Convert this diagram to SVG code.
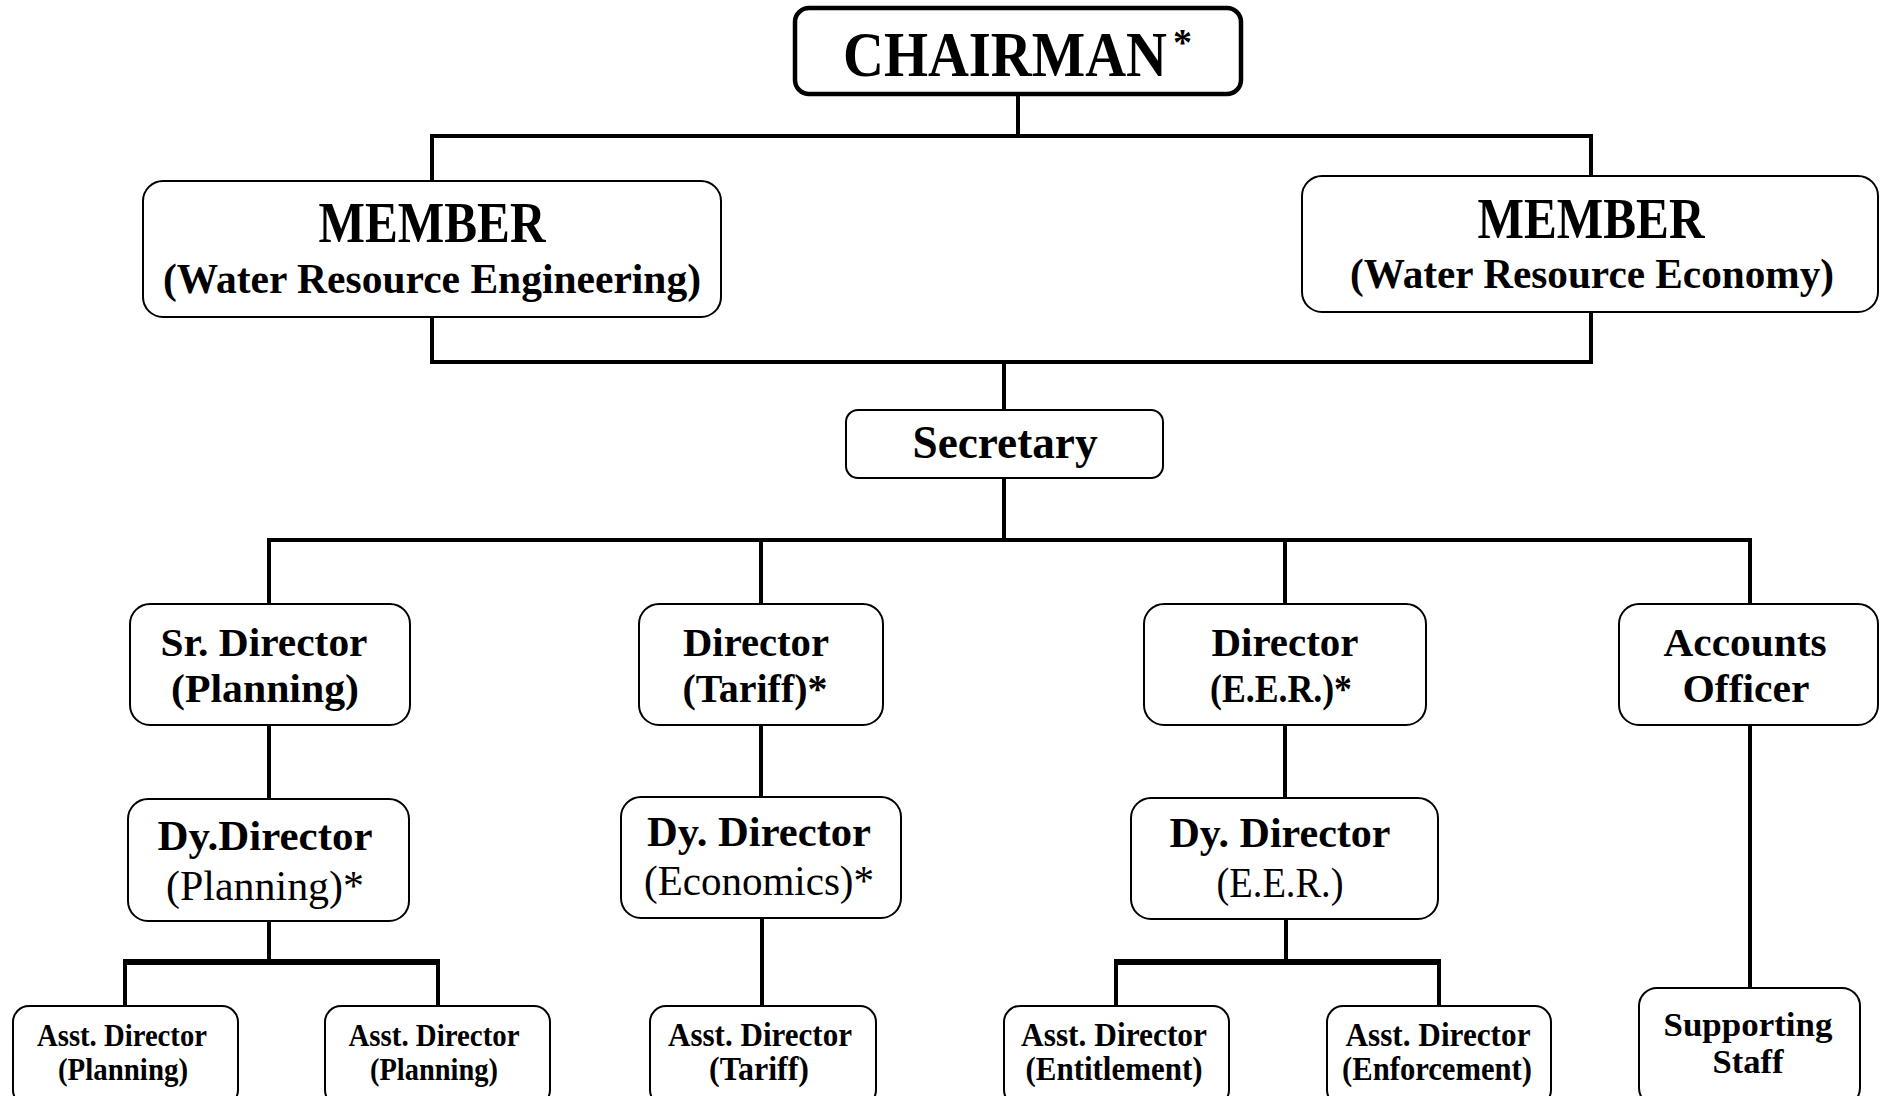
<svg xmlns="http://www.w3.org/2000/svg" width="1881" height="1096" viewBox="0 0 1881 1096">
<style>
.bx{fill:#fff;stroke:#000;stroke-width:2}
.bxc{fill:#fff;stroke:#000;stroke-width:4.5}
.ln{fill:none;stroke:#000;stroke-width:4;stroke-linecap:square}
.br{fill:none;stroke:#000;stroke-width:6}
text{font-family:"Liberation Serif","Times New Roman",serif;font-weight:bold;fill:#000;text-anchor:middle}
.r{font-weight:normal}
.t1{font-size:64px}
.t2{font-size:56px}
.t3{font-size:42px}
.t4{font-size:46px}
.t5{font-size:40px}
.t6{font-size:42px}
.t7{font-size:31px}
.t8{font-size:33px}
</style>
<rect width="1881" height="1096" fill="#fff"/>
<g id="connectors">
<path class="ln" d="M1018 95V136M432 180V136H1591V175"/>
<path class="ln" d="M432 318V362H1591V313M1004 362V410"/>
<path class="ln" d="M1004 479V540M269 604V540H1750V604M761 540V604M1285 540V604"/>
<path class="ln" d="M269 726V799M761 726V797M1285 726V798M1750 726V988"/>
<path class="ln" d="M269 922V962M762 918V1006M1286 920V962"/>
<path class="ln" d="M125 1006V962M438 1006V962M1116 1006V962M1439 1006V962"/>
<path class="br" d="M123 962H440M1114 962H1441"/>
</g>
<g id="chairman">
<rect class="bxc" x="795" y="8" width="446" height="86" rx="14"/>
<text class="t1" transform="translate(1005 76) scale(0.885 1)" x="0" y="0">CHAIRMAN</text>
<text x="1173" y="55" style="font-size:38px;text-anchor:start">*</text>
</g>
<g id="member-engineering">
<rect class="bx" x="143" y="181" width="578" height="136" rx="20"/>
<text class="t2" x="432" y="242" textLength="227" lengthAdjust="spacingAndGlyphs">MEMBER</text>
<text class="t3" x="432" y="293" textLength="538" lengthAdjust="spacingAndGlyphs">(Water Resource Engineering)</text>
</g>
<g id="member-economy">
<rect class="bx" x="1302" y="176" width="576" height="136" rx="20"/>
<text class="t2" x="1591" y="238" textLength="227" lengthAdjust="spacingAndGlyphs">MEMBER</text>
<text class="t3" x="1592" y="288" textLength="484" lengthAdjust="spacingAndGlyphs">(Water Resource Economy)</text>
</g>
<g id="secretary">
<rect class="bx" x="846" y="410" width="317" height="68" rx="12"/>
<text class="t4" x="1005" y="458" textLength="185" lengthAdjust="spacingAndGlyphs">Secretary</text>
</g>
<g id="sr-director-planning">
<rect class="bx" x="130" y="604" width="280" height="121" rx="20"/>
<text class="t5" x="264" y="656" textLength="207" lengthAdjust="spacingAndGlyphs">Sr. Director</text>
<text class="t5" x="265" y="702" textLength="188" lengthAdjust="spacingAndGlyphs">(Planning)</text>
</g>
<g id="director-tariff">
<rect class="bx" x="639" y="604" width="244" height="121" rx="20"/>
<text class="t5" x="756" y="656" textLength="146" lengthAdjust="spacingAndGlyphs">Director</text>
<text class="t5" x="755" y="702" textLength="145" lengthAdjust="spacingAndGlyphs">(Tariff)*</text>
</g>
<g id="director-eer">
<rect class="bx" x="1144" y="604" width="282" height="121" rx="20"/>
<text class="t5" x="1285" y="656" textLength="147" lengthAdjust="spacingAndGlyphs">Director</text>
<text class="t5" x="1281" y="702" textLength="142" lengthAdjust="spacingAndGlyphs">(E.E.R.)*</text>
</g>
<g id="accounts-officer">
<rect class="bx" x="1619" y="604" width="259" height="121" rx="20"/>
<text class="t5" x="1745" y="656" textLength="163" lengthAdjust="spacingAndGlyphs">Accounts</text>
<text class="t5" x="1746" y="702" textLength="127" lengthAdjust="spacingAndGlyphs">Officer</text>
</g>
<g id="dy-director-planning">
<rect class="bx" x="128" y="799" width="281" height="122" rx="20"/>
<text class="t6" x="265" y="850" textLength="215" lengthAdjust="spacingAndGlyphs">Dy.Director</text>
<text class="t6 r" x="265" y="900" textLength="198" lengthAdjust="spacingAndGlyphs">(Planning)*</text>
</g>
<g id="dy-director-economics">
<rect class="bx" x="621" y="797" width="280" height="121" rx="20"/>
<text class="t6" x="759" y="846" textLength="224" lengthAdjust="spacingAndGlyphs">Dy. Director</text>
<text class="t6 r" x="759" y="895" textLength="230" lengthAdjust="spacingAndGlyphs">(Economics)*</text>
</g>
<g id="dy-director-eer">
<rect class="bx" x="1131" y="798" width="307" height="121" rx="20"/>
<text class="t6" x="1280" y="847" textLength="221" lengthAdjust="spacingAndGlyphs">Dy. Director</text>
<text class="t6 r" x="1280" y="897" textLength="127" lengthAdjust="spacingAndGlyphs">(E.E.R.)</text>
</g>
<g id="asst-director-planning-1">
<rect class="bx" x="13" y="1006" width="225" height="100" rx="16"/>
<text class="t7" x="122" y="1046" textLength="170" lengthAdjust="spacingAndGlyphs">Asst. Director</text>
<text class="t7" x="123" y="1080" textLength="130" lengthAdjust="spacingAndGlyphs">(Planning)</text>
</g>
<g id="asst-director-planning-2">
<rect class="bx" x="325" y="1006" width="225" height="100" rx="16"/>
<text class="t7" x="434" y="1046" textLength="171" lengthAdjust="spacingAndGlyphs">Asst. Director</text>
<text class="t7" x="434" y="1080" textLength="128" lengthAdjust="spacingAndGlyphs">(Planning)</text>
</g>
<g id="asst-director-tariff">
<rect class="bx" x="650" y="1006" width="226" height="100" rx="16"/>
<text class="t8" x="760" y="1046" textLength="184" lengthAdjust="spacingAndGlyphs">Asst. Director</text>
<text class="t8" x="759" y="1080" textLength="100" lengthAdjust="spacingAndGlyphs">(Tariff)</text>
</g>
<g id="asst-director-entitlement">
<rect class="bx" x="1004" y="1006" width="225" height="100" rx="16"/>
<text class="t8" x="1114" y="1046" textLength="186" lengthAdjust="spacingAndGlyphs">Asst. Director</text>
<text class="t8" x="1114" y="1080" textLength="177" lengthAdjust="spacingAndGlyphs">(Entitlement)</text>
</g>
<g id="asst-director-enforcement">
<rect class="bx" x="1327" y="1006" width="224" height="100" rx="16"/>
<text class="t8" x="1438" y="1046" textLength="185" lengthAdjust="spacingAndGlyphs">Asst. Director</text>
<text class="t8" x="1437" y="1080" textLength="190" lengthAdjust="spacingAndGlyphs">(Enforcement)</text>
</g>
<g id="supporting-staff">
<rect class="bx" x="1639" y="988" width="221" height="118" rx="18"/>
<text class="t8" x="1748" y="1036" textLength="169" lengthAdjust="spacingAndGlyphs">Supporting</text>
<text class="t8" x="1748" y="1073" textLength="71" lengthAdjust="spacingAndGlyphs">Staff</text>
</g>
</svg>
